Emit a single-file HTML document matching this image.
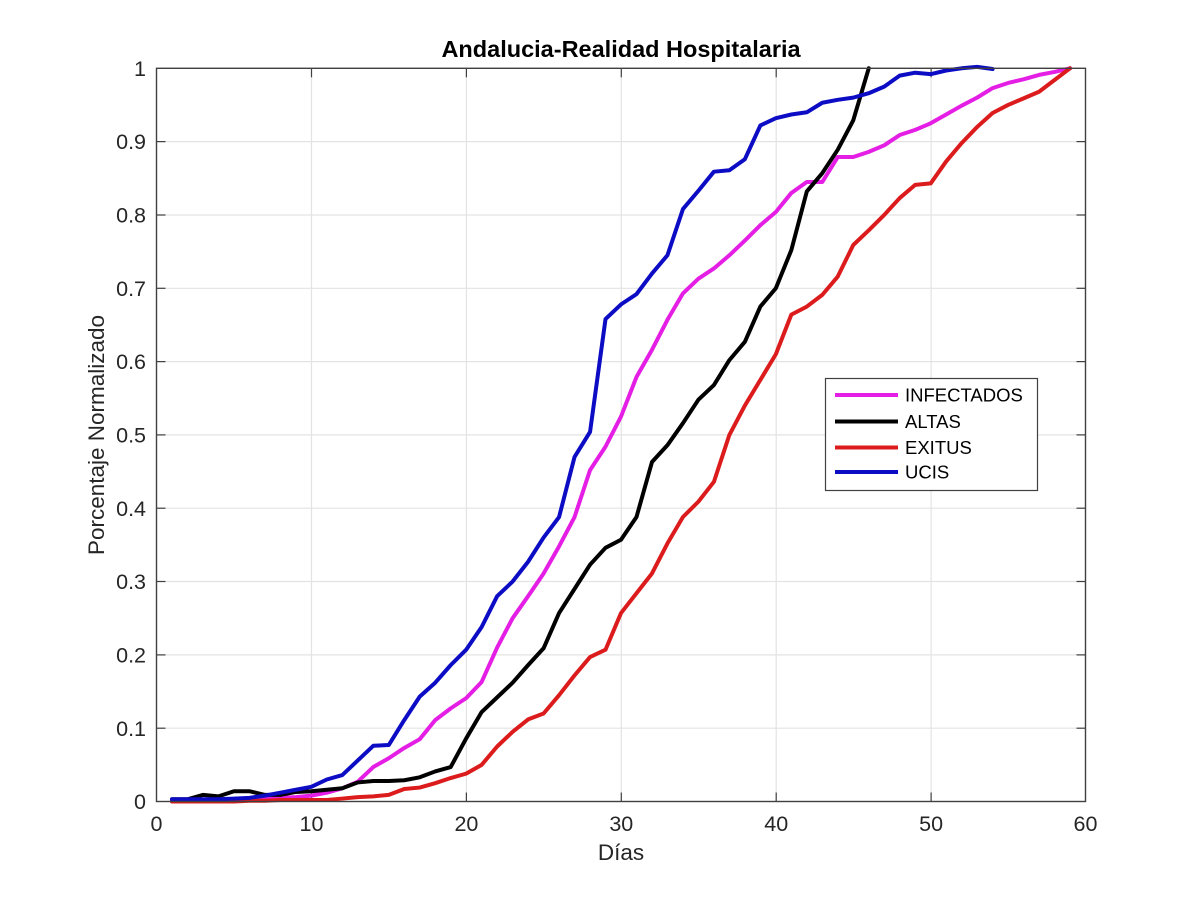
<!DOCTYPE html>
<html>
<head>
<meta charset="utf-8">
<style>
html,body{margin:0;padding:0;background:#fff;}
svg{display:block;}
text{font-family:"Liberation Sans", Arial, sans-serif;}
</style>
</head>
<body>
<svg width="1200" height="899" viewBox="0 0 1200 899" xmlns="http://www.w3.org/2000/svg">
<rect x="0" y="0" width="1200" height="899" fill="#fff"/>
<!-- grid -->
<g stroke="#e3e3e3" stroke-width="1.2">
  <line x1="311.5" y1="68.3" x2="311.5" y2="801.5"/>
  <line x1="466.4" y1="68.3" x2="466.4" y2="801.5"/>
  <line x1="621.3" y1="68.3" x2="621.3" y2="801.5"/>
  <line x1="776.2" y1="68.3" x2="776.2" y2="801.5"/>
  <line x1="931.1" y1="68.3" x2="931.1" y2="801.5"/>
  <line x1="156.5" y1="728.2" x2="1085.5" y2="728.2"/>
  <line x1="156.5" y1="654.9" x2="1085.5" y2="654.9"/>
  <line x1="156.5" y1="581.5" x2="1085.5" y2="581.5"/>
  <line x1="156.5" y1="508.2" x2="1085.5" y2="508.2"/>
  <line x1="156.5" y1="434.9" x2="1085.5" y2="434.9"/>
  <line x1="156.5" y1="361.6" x2="1085.5" y2="361.6"/>
  <line x1="156.5" y1="288.3" x2="1085.5" y2="288.3"/>
  <line x1="156.5" y1="215.0" x2="1085.5" y2="215.0"/>
  <line x1="156.5" y1="141.6" x2="1085.5" y2="141.6"/>
</g>
<!-- ticks -->
<g stroke="#404040" stroke-width="1.2">
  <line x1="311.5" y1="801.5" x2="311.5" y2="792.5"/><line x1="311.5" y1="68.3" x2="311.5" y2="77.3"/>
  <line x1="466.4" y1="801.5" x2="466.4" y2="792.5"/><line x1="466.4" y1="68.3" x2="466.4" y2="77.3"/>
  <line x1="621.3" y1="801.5" x2="621.3" y2="792.5"/><line x1="621.3" y1="68.3" x2="621.3" y2="77.3"/>
  <line x1="776.2" y1="801.5" x2="776.2" y2="792.5"/><line x1="776.2" y1="68.3" x2="776.2" y2="77.3"/>
  <line x1="931.1" y1="801.5" x2="931.1" y2="792.5"/><line x1="931.1" y1="68.3" x2="931.1" y2="77.3"/>
  <line x1="156.5" y1="728.2" x2="165.5" y2="728.2"/><line x1="1085.5" y1="728.2" x2="1076.5" y2="728.2"/>
  <line x1="156.5" y1="654.9" x2="165.5" y2="654.9"/><line x1="1085.5" y1="654.9" x2="1076.5" y2="654.9"/>
  <line x1="156.5" y1="581.5" x2="165.5" y2="581.5"/><line x1="1085.5" y1="581.5" x2="1076.5" y2="581.5"/>
  <line x1="156.5" y1="508.2" x2="165.5" y2="508.2"/><line x1="1085.5" y1="508.2" x2="1076.5" y2="508.2"/>
  <line x1="156.5" y1="434.9" x2="165.5" y2="434.9"/><line x1="1085.5" y1="434.9" x2="1076.5" y2="434.9"/>
  <line x1="156.5" y1="361.6" x2="165.5" y2="361.6"/><line x1="1085.5" y1="361.6" x2="1076.5" y2="361.6"/>
  <line x1="156.5" y1="288.3" x2="165.5" y2="288.3"/><line x1="1085.5" y1="288.3" x2="1076.5" y2="288.3"/>
  <line x1="156.5" y1="215.0" x2="165.5" y2="215.0"/><line x1="1085.5" y1="215.0" x2="1076.5" y2="215.0"/>
  <line x1="156.5" y1="141.6" x2="165.5" y2="141.6"/><line x1="1085.5" y1="141.6" x2="1076.5" y2="141.6"/>
</g>
<!-- series -->
<g transform="translate(156.5,801.5) scale(15.4833,-733.2)" fill="none" stroke-width="4" stroke-linejoin="round" stroke-linecap="round">
  <polyline vector-effect="non-scaling-stroke" stroke="#e41ee4" points="1,0.002 2,0.002 3,0.002 4,0.002 5,0.003 6,0.003 7,0.004 8,0.005 9,0.006 10,0.008 11,0.012 12,0.018 13,0.027 14,0.047 15,0.059 16,0.073 17,0.085 18,0.111 19,0.127 20,0.141 21,0.163 22,0.21 23,0.25 24,0.28 25,0.311 26,0.348 27,0.388 28,0.452 29,0.484 30,0.525 31,0.579 32,0.616 33,0.657 34,0.693 35,0.713 36,0.727 37,0.745 38,0.765 39,0.786 40,0.804 41,0.83 42,0.845 43,0.845 44,0.879 45,0.879 46,0.886 47,0.895 48,0.909 49,0.916 50,0.925 51,0.937 52,0.949 53,0.96 54,0.973 55,0.98 56,0.985 57,0.991 58,0.995 59,1.0"/>
  <polyline vector-effect="non-scaling-stroke" stroke="#000000" points="1,0.003 2,0.003 3,0.009 4,0.007 5,0.014 6,0.014 7,0.009 8,0.009 9,0.013 10,0.014 11,0.016 12,0.018 13,0.026 14,0.028 15,0.028 16,0.029 17,0.033 18,0.041 19,0.047 20,0.086 21,0.122 22,0.142 23,0.162 24,0.186 25,0.209 26,0.257 27,0.29 28,0.323 29,0.346 30,0.357 31,0.388 32,0.463 33,0.486 34,0.516 35,0.548 36,0.568 37,0.602 38,0.627 39,0.675 40,0.70 41,0.752 42,0.832 43,0.857 44,0.889 45,0.929 46,1.0"/>
  <polyline vector-effect="non-scaling-stroke" stroke="#dc1c1c" points="1,0.0 2,0.0 3,0.0 4,0.0 5,0.0 6,0.001 7,0.001 8,0.002 9,0.002 10,0.002 11,0.002 12,0.004 13,0.006 14,0.007 15,0.009 16,0.017 17,0.019 18,0.025 19,0.032 20,0.038 21,0.05 22,0.075 23,0.095 24,0.112 25,0.12 26,0.145 27,0.172 28,0.197 29,0.207 30,0.257 31,0.284 32,0.311 33,0.352 34,0.388 35,0.409 36,0.436 37,0.50 38,0.54 39,0.575 40,0.61 41,0.664 42,0.675 43,0.691 44,0.716 45,0.759 46,0.779 47,0.80 48,0.823 49,0.841 50,0.843 51,0.873 52,0.898 53,0.92 54,0.939 55,0.95 56,0.959 57,0.968 58,0.984 59,1.0"/>
  <polyline vector-effect="non-scaling-stroke" stroke="#0c0cc4" points="1,0.003 2,0.003 3,0.003 4,0.003 5,0.004 6,0.005 7,0.008 8,0.012 9,0.016 10,0.02 11,0.03 12,0.036 13,0.056 14,0.076 15,0.077 16,0.111 17,0.143 18,0.162 19,0.186 20,0.207 21,0.238 22,0.28 23,0.30 24,0.327 25,0.36 26,0.388 27,0.47 28,0.504 29,0.658 30,0.678 31,0.692 32,0.72 33,0.745 34,0.808 35,0.833 36,0.859 37,0.861 38,0.876 39,0.922 40,0.932 41,0.937 42,0.94 43,0.953 44,0.957 45,0.96 46,0.966 47,0.975 48,0.99 49,0.994 50,0.992 51,0.997 52,1.0 53,1.002 54,0.999"/>
</g>
<!-- axes box -->
<rect x="156.5" y="68.3" width="929" height="733.2" fill="none" stroke="#404040" stroke-width="1.4"/>
<!-- y tick labels -->
<g font-size="21.5" fill="#262626" text-anchor="end">
  <text x="146" y="809">0</text>
  <text x="146" y="736">0.1</text>
  <text x="146" y="662.5">0.2</text>
  <text x="146" y="589">0.3</text>
  <text x="146" y="516">0.4</text>
  <text x="146" y="442.5">0.5</text>
  <text x="146" y="369">0.6</text>
  <text x="146" y="296">0.7</text>
  <text x="146" y="222.5">0.8</text>
  <text x="146" y="149">0.9</text>
  <text x="146" y="76">1</text>
</g>
<!-- x tick labels -->
<g font-size="21.5" fill="#262626" text-anchor="middle">
  <text x="156.5" y="831">0</text>
  <text x="311.5" y="831">10</text>
  <text x="466.4" y="831">20</text>
  <text x="621.3" y="831">30</text>
  <text x="776.2" y="831">40</text>
  <text x="931.1" y="831">50</text>
  <text x="1085.5" y="831">60</text>
</g>
<!-- axis labels -->
<text x="621" y="860" font-size="22.5" fill="#262626" text-anchor="middle">Días</text>
<text transform="translate(104,435) rotate(-90)" font-size="22.5" fill="#262626" text-anchor="middle">Porcentaje Normalizado</text>
<!-- title -->
<text x="621" y="57" font-size="23.5" font-weight="bold" fill="#000" text-anchor="middle">Andalucia-Realidad Hospitalaria</text>
<!-- legend -->
<rect x="825.5" y="378.5" width="212" height="112" fill="#fff" stroke="#404040" stroke-width="1.2"/>
<g stroke-width="4" stroke-linecap="butt">
  <line x1="835" y1="395" x2="898" y2="395" stroke="#e41ee4"/>
  <line x1="835" y1="421.5" x2="898" y2="421.5" stroke="#000"/>
  <line x1="835" y1="447.5" x2="898" y2="447.5" stroke="#dc1c1c"/>
  <line x1="835" y1="472" x2="898" y2="472" stroke="#0c0cc4"/>
</g>
<g font-size="18.5" fill="#000">
  <text x="905" y="401.5">INFECTADOS</text>
  <text x="905" y="428">ALTAS</text>
  <text x="905" y="454">EXITUS</text>
  <text x="905" y="478.5">UCIS</text>
</g>
</svg>
</body>
</html>
